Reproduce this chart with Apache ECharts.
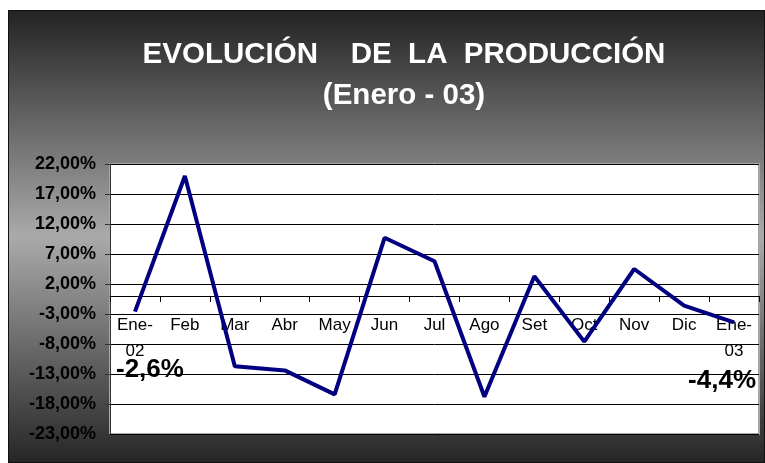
<!DOCTYPE html>
<html>
<head>
<meta charset="utf-8">
<script src="https://cdn.jsdelivr.net/npm/echarts@6/dist/echarts.min.js"></script>
<style>
  html, body { margin: 0; padding: 0; background: #fff; }
  #frame {
    position: absolute;
    left: 8px;
    top: 10px;
    width: 757px;
    height: 453px;
    box-sizing: border-box;
    border: 1px solid #111;
  }
  #chart { width: 100%; height: 100%; }
</style>
</head>
<body>
<div id="frame"><div id="chart"></div></div>
<script>
// datos
const months = ['Ene-02', 'Feb', 'Mar', 'Abr', 'May', 'Jun', 'Jul', 'Ago', 'Set', 'Oct', 'Nov', 'Dic', 'Ene-03']
const growth = [-2.6, 20.0, -11.7, -12.4, -16.4, 9.7, 5.8, -16.8, 3.3, -7.6, 4.5, -1.6, -4.4]
const yMin = -23
const yMax = 22
const yStep = 5

const font = '"Liberation Sans", Arial, sans-serif'

function pct(v, d) {
  return v.toFixed(d).replace('.', ',') + '%'
}

function chart() {
  const myChart = echarts.init(document.getElementById('chart'))

  // etiquetas grandes solo en el primer y ultimo mes
  const seriesData = growth.map((v, i) => {
    if (i === 0 || i === growth.length - 1) {
      return {
        value: v,
        label: {
          show: true,
          position: 'inside',
          offset: i === 0 ? [15, 58] : [-12, 58]
        }
      }
    }
    return v
  })

  const option = {
    backgroundColor: new echarts.graphic.LinearGradient(0, 0, 0, 1, [
      { offset: 0, color: '#232323' },
      { offset: 0.5, color: '#aaaaaa' },
      { offset: 1, color: '#262626' }
    ]),
    title: {
      text: 'EVOLUCIÓN    DE  LA  PRODUCCIÓN\n(Enero - 03)',
      left: 390,
      top: 18,
      textAlign: 'center',
      textStyle: {
        color: '#fff',
        fontFamily: font,
        fontSize: 29.5,
        fontWeight: 'bold',
        lineHeight: 41
      }
    },
    grid: {
      left: 101,
      right: 5,
      top: 153,
      bottom: 28,
      outerBoundsMode: 'none',
      containLabel: false,
      show: true,
      backgroundColor: '#fff',
      borderColor: '#a8a8a8',
      borderWidth: 2
    },
    xAxis: {
      type: 'category',
      data: months,
      boundaryGap: true,
      position: 'bottom',
      // eje de categorias sobre el 0%
      offset: -138,
      axisLine: {
        onZero: false,
        lineStyle: { color: '#000', width: 1 }
      },
      axisTick: {
        show: true,
        length: 6,
        lineStyle: { color: '#000' }
      },
      axisLabel: {
        interval: 0,
        margin: 16,
        color: '#000',
        fontFamily: font,
        fontSize: 17,
        lineHeight: 26,
        formatter: (v) => v.replace('-', '-\n')
      },
      splitLine: { show: false }
    },
    yAxis: {
      type: 'value',
      min: yMin,
      max: yMax,
      interval: yStep,
      axisLine: {
        show: true,
        lineStyle: { color: '#333' }
      },
      axisTick: {
        show: true,
        length: 5,
        lineStyle: { color: '#333' }
      },
      axisLabel: {
        margin: 14,
        color: '#000',
        fontFamily: font,
        fontSize: 18,
        fontWeight: 'bold',
        formatter: (v) => pct(v, 2)
      },
      splitLine: {
        show: true,
        lineStyle: { color: '#000', width: 1 }
      }
    },
    series: [{
      type: 'line',
      data: seriesData,
      showSymbol: true,
      symbol: 'circle',
      symbolSize: 0,
      lineStyle: { color: '#000080', width: 4 },
      itemStyle: { color: '#000080' },
      label: {
        show: false,
        color: '#000',
        fontFamily: font,
        fontSize: 26,
        fontWeight: 'bold',
        formatter: (p) => pct(p.value, 1)
      }
    }]
  }

  option && myChart.setOption(option)
}

chart()
</script>
</body>
</html>
